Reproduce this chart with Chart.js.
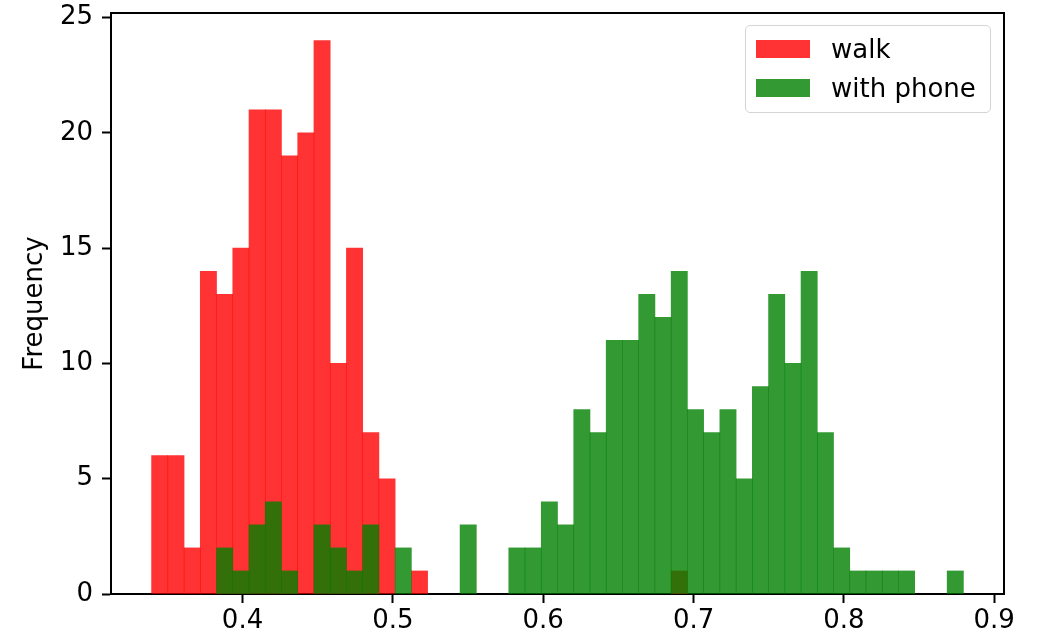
<!DOCTYPE html>
<html>
<head>
<meta charset="utf-8">
<script src="https://cdn.jsdelivr.net/npm/chart.js@4.4.1/dist/chart.umd.min.js"></script>
<style>
  html, body { margin: 0; padding: 0; background: #fff; }
  #wrap { position: relative; width: 1040px; height: 634px; }
  #legend {
    position: absolute; left: 745px; top: 25px; width: 246px; height: 88px;
    box-sizing: border-box; border: 1.5px solid #d4d4d4; border-radius: 5px;
    background: rgba(255,255,255,0.8);
    font-family: 'DejaVu Sans', sans-serif; font-size: 26px; color: #000;
  }
  #legend .item { position: absolute; left: 10px; height: 30px; display: flex; align-items: center; }
  #legend .swatch { width: 54px; height: 18px; margin-right: 21px; }
</style>
</head>
<body>
<div id="wrap">
  <canvas id="chart" width="1040" height="634"></canvas>
  <div id="legend"></div>
</div>
<script>
// ── Data ──────────────────────────────────────────────────────────────────
const binEdges = [
  0.3395, 0.3503, 0.3611, 0.3719, 0.3827, 0.3935, 0.4043, 0.4151, 0.4259, 0.4367,
  0.4475, 0.4583, 0.4691, 0.4799, 0.4907, 0.5015, 0.5123, 0.5231, 0.5339, 0.5447,
  0.5555, 0.5663, 0.5771, 0.5879, 0.5987, 0.6095, 0.6203, 0.6311, 0.6419, 0.6527,
  0.6635, 0.6743, 0.6851, 0.6959, 0.7067, 0.7175, 0.7283, 0.7391, 0.7499, 0.7607,
  0.7715, 0.7823, 0.7931, 0.8039, 0.8147, 0.8255, 0.8363, 0.8471, 0.8579, 0.8687,
  0.8795,
];

const walkCounts = [
  6, 6, 2, 14, 13, 15, 21, 21, 19, 20,
  24, 10, 15, 7, 5, 0, 1, 0, 0, 0,
  0, 0, 0, 0, 0, 0, 0, 0, 0, 0,
  0, 0, 1, 0, 0, 0, 0, 0, 0, 0,
  0, 0, 0, 0, 0, 0, 0, 0, 0, 0,
];

const phoneCounts = [
  0, 0, 0, 0, 2, 1, 3, 4, 1, 0,
  3, 2, 1, 3, 0, 2, 0, 0, 0, 3,
  0, 0, 2, 2, 4, 3, 8, 7, 11, 11,
  13, 12, 14, 8, 7, 8, 5, 9, 13, 10,
  14, 7, 2, 1, 1, 1, 1, 0, 0, 1,
];

const xTicks = [0.4, 0.5, 0.6, 0.7, 0.8, 0.9];
const yTicks = [0, 5, 10, 15, 20, 25];

const X_MIN = 0.3125, X_MAX = 0.9065;
const Y_MIN = 0, Y_MAX = 25.2;

const C = {
  walk:  'rgba(255,0,0,0.8)',
  phone: 'rgba(0,128,0,0.8)',
  axis:  '#000',
};
const FONT = "'DejaVu Sans', sans-serif";
const FS = 26;

// ── Histogram bins → bar points at bin centres ────────────────────────────
function toBars(counts) {
  const out = [];
  counts.forEach((n, i) => {
    if (n > 0) out.push({ x: (binEdges[i] + binEdges[i + 1]) / 2, y: n });
  });
  return out;
}

// ── Top / right spines ────────────────────────────────────────────────────
const framePlugin = {
  id: 'frame',
  afterDraw(chart) {
    const { ctx, chartArea: { left, right, top, bottom } } = chart;
    ctx.save();
    ctx.strokeStyle = C.axis;
    ctx.lineWidth = 2;
    ctx.beginPath();
    ctx.moveTo(left, bottom);
    ctx.lineTo(left, top);
    ctx.lineTo(right, top);
    ctx.lineTo(right, bottom);
    ctx.stroke();
    ctx.restore();
  },
};

const axisFont = { family: FONT, size: FS };

const chart = new Chart(document.getElementById('chart').getContext('2d'), {
  type: 'bar',
  data: {
    datasets: [
      { label: 'walk',       data: toBars(walkCounts),  backgroundColor: C.walk,  order: 2 },
      { label: 'with phone', data: toBars(phoneCounts), backgroundColor: C.phone, order: 1 },
    ],
  },
  options: {
    responsive: false,
    animation: false,
    events: [],
    grouped: false,
    barPercentage: 1,
    categoryPercentage: 1,
    borderWidth: 0,
    layout: { padding: { top: 13, right: 36, bottom: 0, left: 0 } },
    plugins: {
      legend: { display: false },
      tooltip: { enabled: false },
    },
    scales: {
      x: {
        type: 'linear',
        min: X_MIN,
        max: X_MAX,
        offset: false,
        afterBuildTicks: s => { s.ticks = xTicks.map(v => ({ value: v })); },
        afterFit: s => { s.height = 40; s.paddingLeft = 0; s.paddingRight = 0; },
        grid: { offset: false, drawOnChartArea: false, drawTicks: true, tickLength: 9, tickWidth: 2, tickColor: C.axis },
        border: { display: true, color: C.axis, width: 2 },
        ticks: { color: C.axis, font: axisFont, padding: 3, maxRotation: 0, autoSkip: false, callback: v => v.toFixed(1) },
      },
      y: {
        min: Y_MIN,
        max: Y_MAX,
        afterBuildTicks: s => { s.ticks = yTicks.map(v => ({ value: v })); },
        afterFit: s => { s.width = 111; s.paddingTop = 0; s.paddingBottom = 0; },
        grid: { drawOnChartArea: false, drawTicks: true, tickLength: 9, tickWidth: 2, tickColor: C.axis },
        border: { display: true, color: C.axis, width: 2 },
        ticks: { color: C.axis, font: axisFont, padding: 9, autoSkip: false, callback: v => String(v) },
        title: { display: true, text: 'Frequency', color: C.axis, font: axisFont, padding: { top: 20, bottom: 0 } },
      },
    },
  },
  plugins: [framePlugin],
});

// ── HTML legend built from the datasets ───────────────────────────────────
const legendEl = document.getElementById('legend');
chart.data.datasets.forEach((ds, i) => {
  const item = document.createElement('div');
  item.className = 'item';
  item.style.top = (8 + i * 39) + 'px';
  const sw = document.createElement('span');
  sw.className = 'swatch';
  sw.style.background = ds.backgroundColor;
  const txt = document.createElement('span');
  txt.textContent = ds.label;
  item.append(sw, txt);
  legendEl.appendChild(item);
});
</script>
</body>
</html>
